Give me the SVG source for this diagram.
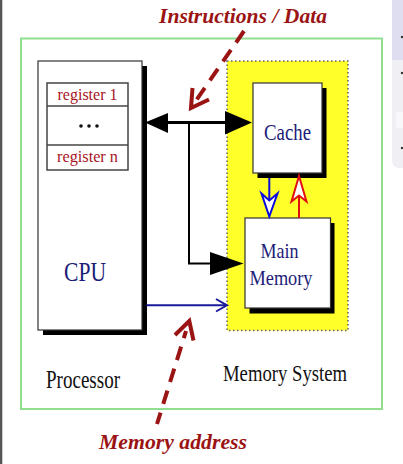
<svg xmlns="http://www.w3.org/2000/svg" width="403" height="464" viewBox="0 0 403 464">
<style>
.box{fill:#fff;stroke:#333;stroke-width:1.2}
.shadow{fill:#000}
.serif{font-family:"Liberation Serif","Times New Roman",serif}
.lbl{font-family:"Liberation Serif","Times New Roman",serif;font-weight:bold;font-style:italic;font-size:22px;fill:#9b1414}
.reg{font-size:17px;fill:#a8141e}
.navy{fill:#1c1c78}
.dash{fill:none;stroke:#9b1414;stroke-width:4;stroke-dasharray:14 9}
.chev{fill:none;stroke:#9b1414;stroke-width:4;stroke-linejoin:miter}
</style>
<rect x="0" y="0" width="403" height="464" fill="#ffffff"/>
<rect x="0" y="0" width="2.3" height="464" fill="#555"/>
<g id="side-panel">
<rect x="392" y="-10" width="22" height="178" rx="7" fill="#f0f0f4"/>
<rect x="392" y="-10" width="22" height="70" fill="#dedef0"/>
<rect x="396" y="112" width="10" height="16" fill="#f8f8fa"/>
<circle cx="402" cy="37" r="1.2" fill="#333"/>
<circle cx="402" cy="73" r="1.2" fill="#333"/>
<circle cx="402" cy="148" r="1.2" fill="#333"/>
</g>
<g id="frame">
<rect x="21" y="38.5" width="361" height="370.5" fill="none" stroke="#8fdf8f" stroke-width="2"/>
</g>
<g id="memory-system">
<rect x="227" y="61" width="121" height="269.5" fill="#ffff2a" stroke="#666" stroke-width="1.5" stroke-dasharray="1.5 2.5"/>
<text x="285" y="381" class="serif" font-size="23.5" text-anchor="middle" textLength="124" lengthAdjust="spacingAndGlyphs" fill="#111">Memory System</text>
</g>
<g id="cpu">
<rect x="43" y="66" width="104" height="269" class="shadow"/>
<rect x="38" y="61" width="104" height="269" class="box"/>
<rect x="47" y="83" width="81" height="87" fill="#fff" stroke="#444" stroke-width="1.5"/>
<line x1="47" y1="106" x2="128" y2="106" stroke="#444" stroke-width="1.5"/>
<line x1="47" y1="145" x2="128" y2="145" stroke="#444" stroke-width="1.5"/>
<text x="87.5" y="100" class="serif reg" text-anchor="middle" textLength="60" lengthAdjust="spacingAndGlyphs">register  1</text>
<text x="87.5" y="162" class="serif reg" text-anchor="middle" textLength="61" lengthAdjust="spacingAndGlyphs">register  n</text>
<circle cx="81" cy="126" r="1.8" fill="#111"/>
<circle cx="89" cy="126" r="1.8" fill="#111"/>
<circle cx="97" cy="126" r="1.8" fill="#111"/>
<text x="85" y="280.5" class="serif navy" font-size="28" text-anchor="middle" textLength="42" lengthAdjust="spacingAndGlyphs">CPU</text>
<text x="83" y="388" class="serif" font-size="24.5" text-anchor="middle" textLength="74" lengthAdjust="spacingAndGlyphs" fill="#111">Processor</text>
</g>
<g id="cache">
<rect x="257.5" y="88" width="69" height="90" class="shadow"/>
<rect x="253" y="83" width="69" height="90" class="box"/>
<text x="287.5" y="140" class="serif navy" font-size="24" text-anchor="middle" textLength="47" lengthAdjust="spacingAndGlyphs">Cache</text>
</g>
<g id="main-memory">
<rect x="249.5" y="223" width="85" height="90.5" class="shadow"/>
<rect x="245" y="218" width="85.5" height="90" class="box"/>
<text x="279.5" y="257.5" class="serif navy" font-size="21" text-anchor="middle" textLength="38" lengthAdjust="spacingAndGlyphs">Main</text>
<text x="281" y="285" class="serif navy" font-size="21" text-anchor="middle" textLength="63" lengthAdjust="spacingAndGlyphs">Memory</text>
</g>
<g id="connectors">
<line x1="166" y1="122.5" x2="227" y2="122.5" stroke="#000" stroke-width="3.2"/>
<polygon points="145,122.5 168,113 168,133" fill="#000"/>
<polygon points="252,122.5 225,111 225,134.5" fill="#000"/>
<polyline points="189,122.5 189,263.5 212,263.5" fill="none" stroke="#000" stroke-width="2"/>
<polygon points="243.5,263.5 210,252 210,275" fill="#000"/>
<line x1="146.5" y1="305.3" x2="226" y2="305.3" stroke="#1a1a9a" stroke-width="2"/>
<polyline points="216,299 227,305.3 216,311.5" fill="none" stroke="#1a1a9a" stroke-width="2"/>
<line x1="269.3" y1="178" x2="269.3" y2="200" stroke="#0a0ae0" stroke-width="2"/>
<polygon points="261.5,193.5 269.3,200.5 277.5,193.5 269.3,216.5" fill="#fff" stroke="#0a0ae0" stroke-width="2" stroke-linejoin="miter"/>
<line x1="299" y1="218" x2="299" y2="195" stroke="#e01010" stroke-width="2"/>
<polygon points="299,176 306.5,201.5 299,195.5 291.5,201.5" fill="#fff" stroke="#e01010" stroke-width="2" stroke-linejoin="miter"/>
<line x1="244" y1="31" x2="195" y2="102" class="dash"/>
<polyline points="192.5,88 191,108 209,99.5" class="chev"/>
<line x1="157" y1="424" x2="186" y2="331" class="dash" stroke-dashoffset="2"/>
<polyline points="175,335 189.3,321 193.5,340.5" class="chev"/>
</g>
<text x="243" y="23" class="lbl" text-anchor="middle" textLength="168" lengthAdjust="spacingAndGlyphs">Instructions / Data</text>
<text x="173" y="449" class="lbl" text-anchor="middle" textLength="148" lengthAdjust="spacingAndGlyphs">Memory address</text>
</svg>
